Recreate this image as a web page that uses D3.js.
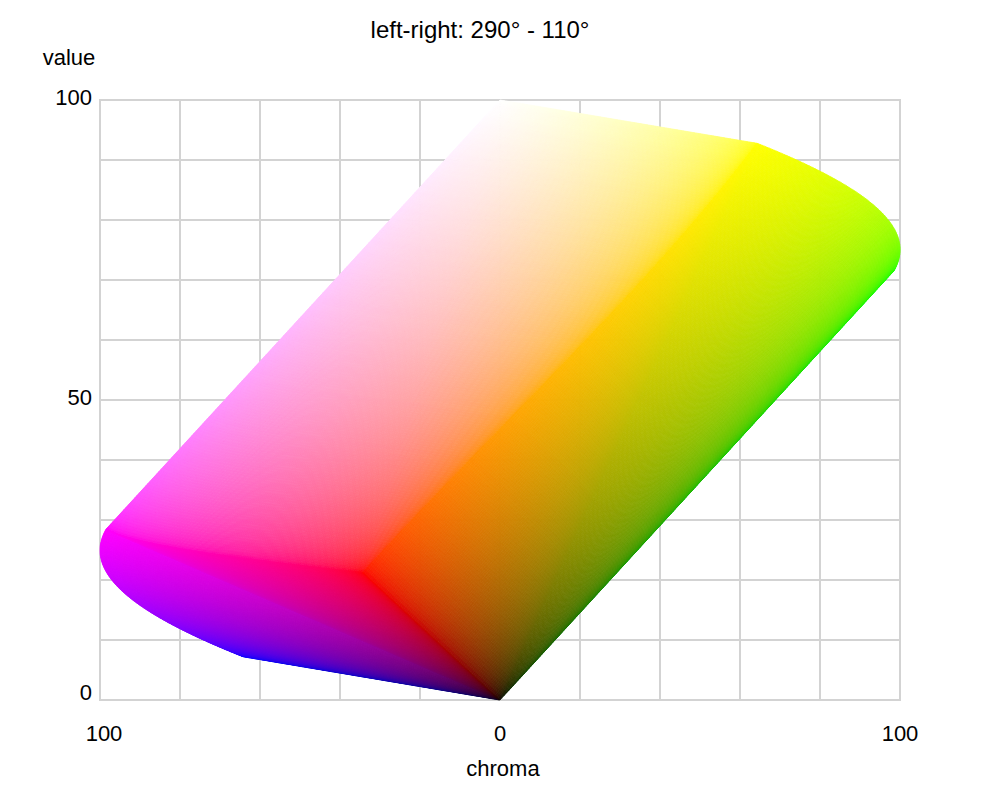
<!DOCTYPE html>
<html>
<head>
<meta charset="utf-8">
<script src="https://cdn.jsdelivr.net/npm/d3@7"></script>
<style>
  body { margin: 0; background: #fff; }
  text { font-family: "Liberation Sans", Arial, sans-serif; font-size: 22px; fill: #000; }
</style>
</head>
<body>
<script>
'use strict';

// view plane: hue on the right side of the chart, the left side is +180
var hueRight = 110;
var hueLeft = 290;
var chromaMax = 100;
var valueMax = 100;
// luminance weights of linear r, g, b (value axis)
var lumaWeights = [0.2126, 0.7152, 0.0722];
// faces of the rgb cube facing the viewer: [channel, fixed level]
var faces = [[0, 1], [1, 0], [2, 0]];
var faceSteps = 180;

var xTickValues = [-100, 0, 100];
var yTickValues = [0, 50, 100];
var xGridValues = [-100, -80, -60, -40, -20, 0, 20, 40, 60, 80, 100];
var yGridValues = [0, 10, 20, 30, 40, 50, 60, 70, 80, 90, 100];

var width = 1000, height = 800;
var margin = {top: 100, right: 100, bottom: 100, left: 100};

var xScale = d3.scaleLinear()
    .domain([-chromaMax, chromaMax])
    .range([margin.left, width - margin.right]);

var yScale = d3.scaleLinear()
    .domain([0, valueMax])
    .range([height - margin.bottom, margin.top]);

var svg = d3.select("body")
    .append("svg")
    .attr("width", width)
    .attr("height", height);

// grid
svg.append("g")
    .selectAll("line")
    .data(xGridValues)
    .enter()
    .append("line")
    .attr("x1", function(d) { return xScale(d); })
    .attr("x2", function(d) { return xScale(d); })
    .attr("y1", yScale(0))
    .attr("y2", yScale(valueMax))
    .attr("stroke", "#d3d3d3")
    .attr("stroke-width", 2);

svg.append("g")
    .selectAll("line")
    .data(yGridValues)
    .enter()
    .append("line")
    .attr("x1", xScale(-chromaMax) - 1)
    .attr("x2", xScale(chromaMax) + 1)
    .attr("y1", function(d) { return yScale(d); })
    .attr("y2", function(d) { return yScale(d); })
    .attr("stroke", "#d3d3d3")
    .attr("stroke-width", 2);

// hsv style hue / chroma of a linear rgb colour, projected onto the view plane
function project(c) {
    var r = c[0], g = c[1], b = c[2];
    var mx = Math.max(r, g, b), mn = Math.min(r, g, b);
    var chroma = mx - mn;
    var h = 0;
    if (chroma > 0) {
        if (mx === r) h = 60 * ((g - b) / chroma);
        else if (mx === g) h = 60 * ((b - r) / chroma + 2);
        else h = 60 * ((r - g) / chroma + 4);
    }
    var along = chroma * Math.cos((h - hueRight) * Math.PI / 180);
    var value = lumaWeights[0] * r + lumaWeights[1] * g + lumaWeights[2] * b;
    return [xScale(along * chromaMax), yScale(value * valueMax)];
}

function encode(v) {
    v = Math.max(0, Math.min(1, v));
    var s = v <= 0.0031308 ? 12.92 * v : 1.055 * Math.pow(v, 1 / 2.4) - 0.055;
    return Math.round(s * 255);
}

function facePoint(face, u, v) {
    var c = [0, 0, 0], k = 0;
    for (var i = 0; i < 3; i++) {
        if (i === face[0]) c[i] = face[1];
        else { c[i] = k === 0 ? u : v; k++; }
    }
    return c;
}

// draw the solid on a canvas, then put it into the svg as an image
var canvas = document.createElement("canvas");
canvas.width = width;
canvas.height = height;
var ctx = canvas.getContext("2d");
ctx.lineWidth = 0.8;
ctx.lineJoin = "round";

faces.forEach(function(face) {
    var n = faceSteps;
    var pts = [];
    for (var i = 0; i <= n; i++) {
        pts.push([]);
        for (var j = 0; j <= n; j++) {
            pts[i].push(project(facePoint(face, i / n, j / n)));
        }
    }
    for (var i = 0; i < n; i++) {
        for (var j = 0; j < n; j++) {
            var c = facePoint(face, (i + 0.5) / n, (j + 0.5) / n);
            var col = "rgb(" + encode(c[0]) + "," + encode(c[1]) + "," + encode(c[2]) + ")";
            ctx.fillStyle = col;
            ctx.strokeStyle = col;
            ctx.beginPath();
            ctx.moveTo(pts[i][j][0], pts[i][j][1]);
            ctx.lineTo(pts[i + 1][j][0], pts[i + 1][j][1]);
            ctx.lineTo(pts[i + 1][j + 1][0], pts[i + 1][j + 1][1]);
            ctx.lineTo(pts[i][j + 1][0], pts[i][j + 1][1]);
            ctx.closePath();
            ctx.fill();
            ctx.stroke();
        }
    }
});

svg.append("image")
    .attr("x", 0)
    .attr("y", 0)
    .attr("width", width)
    .attr("height", height)
    .attr("href", canvas.toDataURL("image/png"));

// tick labels
svg.append("g")
    .selectAll("text")
    .data(xTickValues)
    .enter()
    .append("text")
    .attr("x", function(d) { return Math.max(xScale(d), margin.left + 4); })
    .attr("y", 741)
    .attr("text-anchor", "middle")
    .text(function(d) { return Math.abs(d); });

svg.append("g")
    .selectAll("text")
    .data(yTickValues)
    .enter()
    .append("text")
    .attr("x", margin.left - 8)
    .attr("y", function(d) { return Math.min(yScale(d) + 5, height - margin.bottom); })
    .attr("text-anchor", "end")
    .text(function(d) { return d; });

// axis titles
svg.append("text")
    .attr("x", 69)
    .attr("y", 65)
    .attr("text-anchor", "middle")
    .text("value");

svg.append("text")
    .attr("x", 503)
    .attr("y", 776)
    .attr("text-anchor", "middle")
    .text("chroma");

svg.append("text")
    .attr("x", 480)
    .attr("y", 38)
    .attr("text-anchor", "middle")
    .style("font-size", "24px")
    .text("left-right: " + hueLeft + "\u00b0 - " + hueRight + "\u00b0");
</script>
</body>
</html>
